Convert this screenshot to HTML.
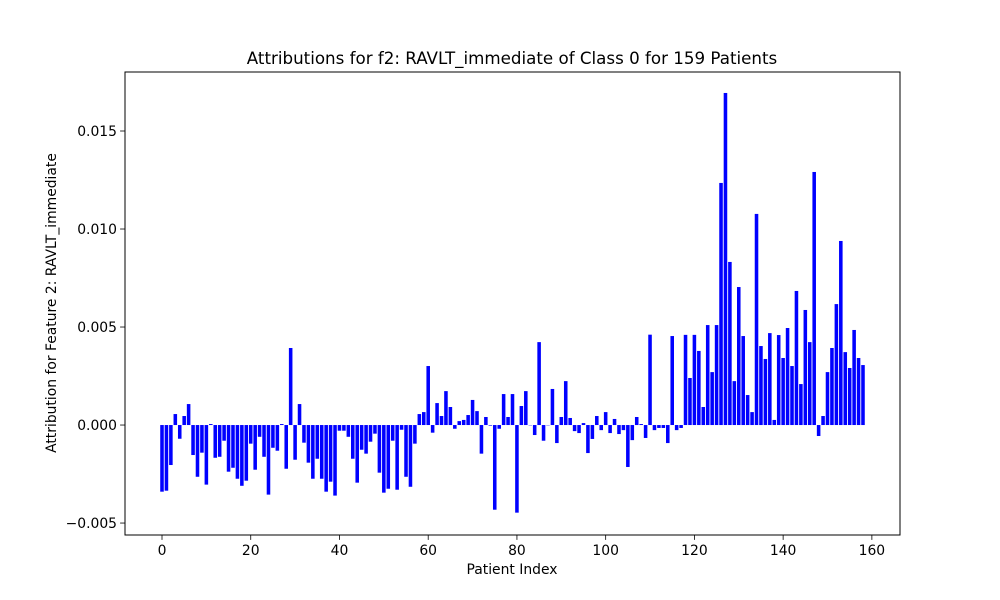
<!DOCTYPE html>
<html><head><meta charset="utf-8"><style>
body{margin:0;background:#fff;}
svg{display:block;font-family:"DejaVu Sans","Liberation Sans",sans-serif;}
</style></head><body>
<svg id="chart" width="1000" height="600">
<rect x="0" y="0" width="1000" height="600" fill="#fff"/>
<text x="512" y="64" text-anchor="middle" font-size="16.7">Attributions for f2: RAVLT_immediate of Class 0 for 159 Patients</text>
<g id="bars"></g>
<g id="axes"></g>
<text x="512" y="574" text-anchor="middle" font-size="13.9">Patient Index</text>
<text transform="translate(56,303) rotate(-90)" text-anchor="middle" font-size="13.9">Attribution for Feature 2: RAVLT_immediate</text>
</svg>
<script>
const values = [-3.4,-3.35,-2.04,0.56,-0.70,0.46,1.07,-1.53,-2.64,-1.41,-3.04,0.05,-1.67,-1.62,-0.80,-2.38,-2.18,-2.74,-3.10,-2.84,
-0.95,-2.28,-0.60,-1.62,-3.55,-1.16,-1.31,0.05,-2.23,3.93,-1.77,1.07,-0.90,-1.92,-2.74,-1.72,-2.74,-3.40,-2.89,-3.60,
-0.29,-0.29,-0.6,-1.72,-2.94,-1.26,-1.46,-0.85,-0.44,-2.43,-3.45,-3.25,-0.80,-3.30,-0.24,-2.64,-3.15,-0.95,0.56,0.66,
3.01,-0.39,1.12,0.46,1.73,0.92,-0.19,0.2,0.26,0.51,1.28,0.71,-1.46,0.41,-0.03,-4.32,-0.19,1.58,0.41,1.58,
-4.47,0.97,1.73,0.0,-0.51,4.23,-0.80,0.0,1.84,-0.92,0.41,2.24,0.36,-0.31,-0.41,0.1,-1.43,-0.71,0.46,-0.26,
0.66,-0.41,0.31,-0.46,-0.26,-2.14,-0.77,0.41,0.05,-0.66,4.61,-0.26,-0.15,-0.15,-0.92,4.54,-0.26,-0.15,4.6,2.4,
4.6,3.78,0.92,5.10,2.70,5.10,12.35,16.94,8.32,2.24,7.04,4.54,1.53,0.66,10.77,4.03,3.37,4.69,0.26,4.59,
3.42,4.95,3.01,6.84,2.09,5.87,4.23,12.91,-0.56,0.46,2.70,3.93,6.17,9.39,3.72,2.91,4.85,3.42,3.06];
const xTicks = [0,20,40,60,80,100,120,140,160];
const yTicks = [-0.005,0,0.005,0.010,0.015];
const yTickLabels = ["\u22120.005","0.000","0.005","0.010","0.015"];

const NS="http://www.w3.org/2000/svg";
const L=125,R=900,T=72,B=535;
const xmin=-8.34,xmax=166.34,ymin=-0.00561,ymax=0.01801;
const sx=v=>L+(v-xmin)/(xmax-xmin)*(R-L);
const sy=v=>B-(v-ymin)/(ymax-ymin)*(B-T);
function mk(tag,attrs,parent){const e=document.createElementNS(NS,tag);for(const k in attrs)e.setAttribute(k,attrs[k]);parent.appendChild(e);return e;}
const bars=document.getElementById('bars');
values.forEach((v,i)=>{
  const val=v/1000;
  const x0=sx(i-0.4),x1=sx(i+0.4);
  const y0=sy(Math.max(val,0)),y1=sy(Math.min(val,0));
  const r=mk('rect',{x:x0,y:y0,width:x1-x0,height:Math.max(y1-y0,0.3),fill:'#0000ff'},bars);
  
  
});
const ax=document.getElementById('axes');
const frame=mk('rect',{x:L,y:T,width:R-L,height:B-T,fill:'none',stroke:'#000','stroke-width':1},ax);


xTicks.forEach(t=>{
  const x=sx(t);
  mk('line',{x1:x,x2:x,y1:B,y2:B+4.9,stroke:'#000','stroke-width':0.8},ax);
  const tx=mk('text',{x:x,y:B+20,'text-anchor':'middle','font-size':13.9},ax);
  tx.textContent=t;
  
  
});
yTicks.forEach((t,i)=>{
  const y=sy(t);
  mk('line',{x1:L-4.9,x2:L,y1:y,y2:y,stroke:'#000','stroke-width':0.8},ax);
  const tx=mk('text',{x:L-8,y:y+5,'text-anchor':'end','font-size':13.9},ax);
  tx.textContent=yTickLabels[i];
  
  
});
</script>
</body></html>
